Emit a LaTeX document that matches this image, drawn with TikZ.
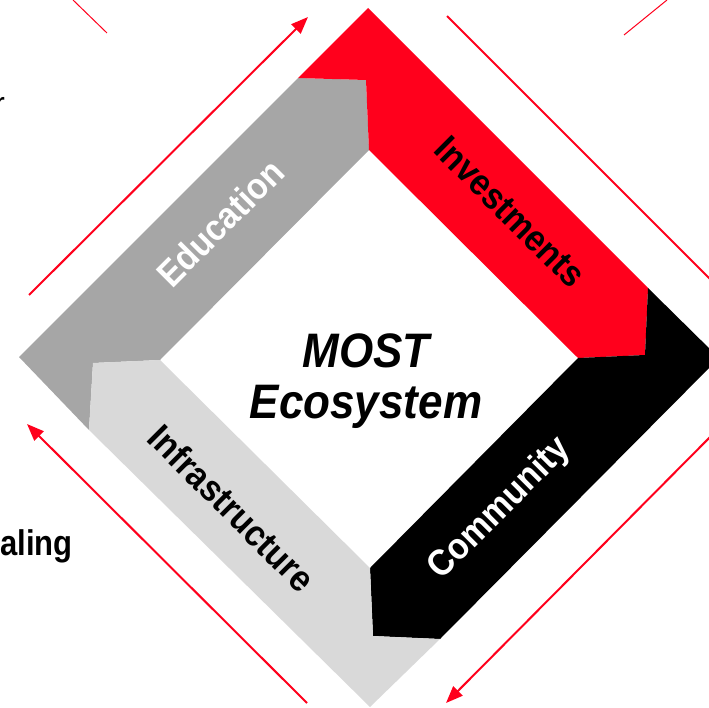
\documentclass[tikz,border=0pt]{standalone}
\usepackage{fontspec}
\setmainfont{Liberation Sans}
\usetikzlibrary{arrows.meta}
\definecolor{mostred}{RGB}{255,0,28}
\definecolor{edugray}{RGB}{166,166,166}
\definecolor{infragray}{RGB}{217,217,217}
\begin{document}
\begin{tikzpicture}[x=1pt, y=-1pt, line join=miter,
    bandtext/.style={font=\fontsize{33.5}{33}\selectfont\bfseries, inner sep=0pt, yscale=1.1},
    cyclearrow/.style={draw=mostred, line width=2pt, -{Triangle[length=17pt,width=13pt]}},
    thinline/.style={draw=mostred, line width=1pt}]

    \clip (0,0) rectangle (709,708);

    % ==========================================
    % 1. Corners of the diamond
    % ==========================================
    \coordinate (oT) at (368,8);
    \coordinate (oR) at (719,358);
    \coordinate (oB) at (370,707);
    \coordinate (oL) at (19,357);
    \coordinate (iT) at (369,150);
    \coordinate (iR) at (578,358);
    \coordinate (iB) at (370,568);
    \coordinate (iL) at (160,360);

    % tips of the four bands
    \coordinate (eduTip) at (366,80);  \coordinate (eduEdge) at (298,78);
    \coordinate (invTip) at (645,355); \coordinate (invEdge) at (648,288);
    \coordinate (comTip) at (373,636); \coordinate (comEdge) at (440,639);
    \coordinate (infTip) at (93,363);  \coordinate (infEdge) at (89,430);

    % ==========================================
    % 2. Bands
    % ==========================================
    \fill[edugray] (infEdge) -- (oL) -- (eduEdge) -- (eduTip) -- (iT) -- (iL) -- (infTip) -- cycle;
    \fill[mostred] (eduEdge) -- (oT) -- (invEdge) -- (invTip) -- (iR) -- (iT) -- (eduTip) -- cycle;
    \fill[black] (invEdge) -- (oR) -- (comEdge) -- (comTip) -- (iB) -- (iR) -- (invTip) -- cycle;
    \fill[infragray] (comEdge) -- (oB) -- (infEdge) -- (infTip) -- (iL) -- (iB) -- (comTip) -- cycle;

    \node[rotate=45, bandtext, text=white] (eduText) at (220,223) {Education};
    \node[rotate=-45, bandtext, text=black] (invText) at (510,212) {Investments};
    \node[rotate=45, bandtext, text=white] (comText) at (500,509) {Community};
    \node[rotate=-45, bandtext, text=black] (infText) at (232,508) {Infrastructure};

    \node[align=center, inner sep=0pt, yscale=1.1, font=\fontsize{44}{47}\selectfont\bfseries\itshape] (core) at (366,381) {MOST\\Ecosystem};

    % ==========================================
    % 3. Red guide lines
    % ==========================================
    \draw[cyclearrow] (29,295) -- (308,17);
    \draw[thinline, line width=2pt] (447,16) -- (722,291);
    \draw[cyclearrow] (720,427) -- (446,703);
    \draw[cyclearrow] (307,703) -- (27,424);

    \draw[thinline] (73,0) -- (107,33);
    \draw[thinline] (667,0) -- (624,35);

    % ==========================================
    % 4. Cut-off side texts
    % ==========================================
    \node[anchor=base east, inner sep=0pt, yscale=1.12, font=\fontsize{30}{30}\selectfont] (sideTop) at (5,116) {r};
    \node[anchor=base east, inner sep=0pt, yscale=1.15, font=\fontsize{31}{31}\selectfont\bfseries] (sideBottom) at (73,555) {aling};

\end{tikzpicture}
\end{document}
